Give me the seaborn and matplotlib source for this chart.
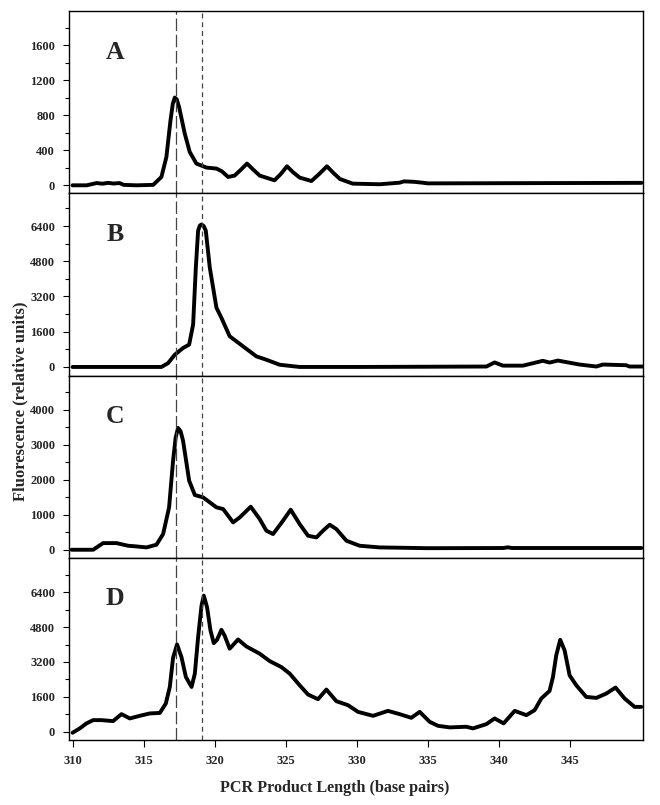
"""Capillary electrophoresis traces, panels A-D, stacked with shared x axis."""

import matplotlib
matplotlib.use("Agg")
import matplotlib.pyplot as plt
from matplotlib.ticker import MultipleLocator
import seaborn as sns


# Panel A
bp_a = [310.0, 311.0, 311.7, 312.1, 312.5, 312.9, 313.3, 313.6, 314.5, 315.67,
        316.25, 316.6, 316.89, 317.05, 317.19, 317.33, 317.49, 317.89, 318.24,
        318.71, 319.42, 320.12, 320.5, 320.94, 321.4, 321.85, 322.27, 322.7,
        323.16, 324.2, 324.65, 325.08, 325.5, 325.97, 326.8, 327.35, 327.89,
        328.35, 328.8, 329.7, 331.6, 333.0, 333.3, 334.0, 334.6, 335.0, 340.0,
        345.0, 350.0]
rfu_a = [0, 0, 26, 18, 28, 20, 26, 5, 0, 5,
         95, 323, 743, 930, 1002, 980, 895, 591, 381,
         248, 202, 191, 160, 95, 111, 180, 248, 180,
         111, 57, 130, 217, 150, 88, 49, 130, 217,
         140, 72, 19, 12, 30, 45, 40, 30, 22, 24,
         26, 28]

# Panel B
bp_b = [310.0, 315.0, 316.25, 316.72, 317.19, 317.77, 318.2, 318.48, 318.67,
        318.83, 318.95, 319.07, 319.22, 319.37, 319.65, 320.12, 320.47, 321.05,
        321.99, 322.93, 323.63, 324.57, 325.97, 330.0, 339.1, 339.68, 340.26,
        341.67, 343.07, 343.54, 344.13, 345.65, 346.83, 347.29, 348.93, 349.16,
        350.08]
rfu_b = [0, 0, 0, 175, 557, 860, 1014, 1928, 4515,
         6190, 6420, 6470, 6400, 6190, 4515, 2687, 2230, 1393,
         936, 480, 327, 100, 0, 0, 20, 205, 60,
         60, 280, 200, 290, 110, 20, 110, 80, 20,
         20]

# Panel C
bp_c = [309.93, 311.45, 312.15, 313.09, 313.91, 314.5, 315.2, 315.9, 316.37,
        316.79, 317.07, 317.25, 317.42, 317.6, 317.77, 318.2, 318.6, 319.18,
        319.65, 320.12, 320.59, 321.29, 321.76, 322.53, 323.16, 323.63, 324.1,
        324.8, 325.34, 325.97, 326.56, 327.15, 327.61, 328.08, 328.55, 329.26,
        330.19, 331.6, 335.0, 340.3, 340.6, 340.9, 345.0, 350.0]
rfu_c = [0, 0, 190, 190, 114, 95, 67, 143, 448,
         1210, 2543, 3200, 3476, 3380, 3114, 1971, 1562, 1495,
         1352, 1210, 1162, 781, 924, 1228, 876, 543, 448,
         829, 1143, 733, 400, 352, 543, 714, 590, 257,
         114, 67, 45, 50, 70, 50, 50, 50]

# Panel D
bp_d = [310.0, 310.51, 310.98, 311.45, 312.04, 312.85, 313.44, 314.03, 314.73,
        315.43, 316.14, 316.56, 316.84, 317.07, 317.35, 317.66, 317.97, 318.37,
        318.6, 318.83, 319.07, 319.23, 319.46, 319.7, 319.93, 320.16, 320.47,
        320.7, 321.05, 321.64, 322.22, 323.16, 323.86, 324.68, 325.27, 325.97,
        326.56, 327.26, 327.85, 328.55, 329.37, 330.07, 331.13, 332.18, 333.0,
        333.82, 334.41, 335.11, 335.69, 336.52, 337.69, 338.16, 339.1, 339.68,
        340.31, 341.09, 341.91, 342.49, 342.96, 343.54, 343.78, 344.01, 344.29,
        344.6, 344.95, 345.42, 346.12, 346.83, 347.53, 348.18, 348.82, 349.52,
        349.99]
rfu_d = [-50, 150, 380, 530, 530, 485, 805, 608, 728,
         837, 860, 1293, 2053, 3396, 4005, 3424, 2510, 2053,
         2665, 4339, 5787, 6245, 5710, 4645, 4065, 4217, 4676,
         4400, 3808, 4233, 3913, 3579, 3241, 2967, 2665, 2130,
         1705, 1490, 1934, 1399, 1216, 910, 727, 955, 805,
         636, 910, 453, 270, 196, 226, 150, 347, 608,
         380, 955, 758, 987, 1522, 1870, 2510, 3502, 4219,
         3730, 2587, 2130, 1596, 1550, 1750, 2025, 1522, 1138,
         1138]

panel_labels = ["A", "B", "C", "D"]
y_limits = [(-91, 1989), (-389, 7886), (-229, 4971), (-384, 7982)]
y_major = [400, 1600, 1000, 1600]
x_ticks = [310, 315, 320, 325, 330, 335, 340, 345]
marker_bp = [317.27, 319.07]

SERIF = ["Liberation Serif", "DejaVu Serif"]


def main() -> None:
    sns.set_theme(style="ticks")
    plt.rcParams["font.family"] = SERIF
    plt.rcParams["font.weight"] = "bold"

    fig, axes = plt.subplots(4, 1, figsize=(6.6, 8.05), dpi=100, sharex=True)
    fig.subplots_adjust(left=0.1045, right=0.974, top=0.9863, bottom=0.0807,
                        hspace=0)

    traces = [(bp_a, rfu_a), (bp_b, rfu_b), (bp_c, rfu_c), (bp_d, rfu_d)]
    for i, (ax, (x, y)) in enumerate(zip(axes, traces)):
        sns.lineplot(x=x, y=y, ax=ax, color="black", linewidth=2.8,
                     estimator=None, sort=False)
        ax.set_ylim(*y_limits[i])
        ax.set_xlim(309.75, 350.1)
        ax.yaxis.set_major_locator(MultipleLocator(y_major[i]))
        ax.yaxis.set_minor_locator(MultipleLocator(y_major[i] / 2))
        ax.tick_params(axis="y", which="major", direction="out", length=4,
                       width=0.8, labelsize=9, pad=6, color="black")
        ax.tick_params(axis="y", which="minor", direction="out", length=3,
                       width=0.8, color="black")
        for lbl in ax.get_yticklabels():
            lbl.set_fontweight("bold")
        for spine in ax.spines.values():
            spine.set_visible(True)
            spine.set_color("black")
            spine.set_linewidth(1.0)
        ax.set_xlabel("")
        ax.set_ylabel("")
        ax.axvline(marker_bp[0], color="#444444", linewidth=0.9,
                   dashes=(10, 3))
        ax.axvline(marker_bp[1], color="#444444", linewidth=0.9,
                   dashes=(4, 3))
        ax.text(0.08, 0.775, panel_labels[i], transform=ax.transAxes,
                fontsize=18.5, fontweight="bold", ha="center", va="center",
                family=SERIF)
        if i < 3:
            ax.tick_params(axis="x", which="both", bottom=False,
                           labelbottom=False)

    bottom = axes[-1]
    bottom.set_xticks(x_ticks)
    bottom.tick_params(axis="x", direction="out", length=5, width=0.8,
                       labelsize=9, pad=6, color="black")
    for lbl in bottom.get_xticklabels():
        lbl.set_fontweight("bold")

    fig.text(335 / 660, 1 - 788 / 805, "PCR Product Length (base pairs)",
             ha="center", va="center", fontsize=11.6, fontweight="bold",
             family=SERIF)
    fig.text(20 / 660, 1 - 401 / 805, "Fluorescence (relative units)",
             ha="center", va="center", rotation=90, fontsize=12,
             fontweight="bold", family=SERIF)

    fig.savefig("out.png", dpi=100)
    plt.close(fig)


if __name__ == "__main__":
    main()
